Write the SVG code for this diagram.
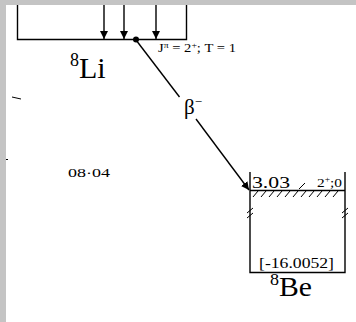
<svg xmlns="http://www.w3.org/2000/svg" width="356" height="322" viewBox="0 0 356 322">
<style>
.ln{stroke:#000;stroke-width:1.4;fill:none}
.th{stroke:#000;stroke-width:1;fill:none}
.t{font-family:"Liberation Serif","Times New Roman",serif;fill:#000}
</style>
<defs>
<marker id="ah" viewBox="0 0 10 10" refX="10" refY="5" markerWidth="8" markerHeight="8" markerUnits="userSpaceOnUse" orient="auto">
<path d="M0,0 L10,5 L0,10 z" fill="#000"/>
</marker>
</defs>
<rect x="0" y="0" width="356" height="322" fill="#fff"/>
<rect x="0" y="0" width="356" height="5" fill="#c4c4c4"/>
<rect x="0" y="0" width="6" height="322" fill="#c4c4c4"/>

<g id="li8">
<path class="ln" d="M17.5,5 V39.5 H186.5 V5"/>
<line class="ln" x1="104" y1="5" x2="104" y2="39" marker-end="url(#ah)"/>
<line class="ln" x1="124" y1="5" x2="124" y2="39" marker-end="url(#ah)"/>
<line class="ln" x1="156" y1="5" x2="156" y2="39" marker-end="url(#ah)"/>
<circle cx="136" cy="39.5" r="3" fill="#000"/>
<text class="t" x="158" y="52" font-size="12" textLength="78" lengthAdjust="spacingAndGlyphs">J<tspan font-size="8" dy="-4">π</tspan><tspan dy="4"> = 2</tspan><tspan font-size="8" dy="-4">+</tspan><tspan dy="4">; T = 1</tspan></text>
<text class="t" x="70" y="78" font-size="30"><tspan font-size="18" dy="-12">8</tspan><tspan dy="12">Li</tspan></text>
</g>

<g id="be8">
<path class="ln" d="M250,172 V272.5 H345 V172"/>
<line class="ln" x1="250" y1="190.5" x2="345" y2="190.5"/>
<path class="th" d="M253,197 l5,-6 M261,197 l5,-6 M269,197 l5,-6 M277,197 l5,-6 M285,197 l5,-6 M293,197 l5,-6 M301,197 l5,-6 M309,197 l5,-6 M317,197 l5,-6 M325,197 l5,-6 M333,197 l5,-6"/>
<path class="th" d="M299,189 l6,-6"/>
<path class="th" d="M247,213 l6,-5 M247,218 l6,-5 M342,213 l6,-5 M342,218 l6,-5"/>
<text class="t" x="252" y="188" font-size="17" textLength="38" lengthAdjust="spacingAndGlyphs">3.03</text>
<text class="t" x="317" y="187" font-size="13" textLength="25" lengthAdjust="spacingAndGlyphs">2<tspan font-size="8" dy="-5">+</tspan><tspan dy="5">;0</tspan></text>
<text class="t" x="259" y="268" font-size="15" textLength="75" lengthAdjust="spacingAndGlyphs">[-16.0052]</text>
<text class="t" x="270" y="296" font-size="28" textLength="42" lengthAdjust="spacingAndGlyphs"><tspan font-size="17" dy="-11">8</tspan><tspan dy="11">Be</tspan></text>
</g>

<g id="connectors">
<line class="ln" x1="136" y1="40" x2="179.5" y2="97"/>
<line class="ln" x1="196" y1="119" x2="249" y2="190" marker-end="url(#ah)"/>
<text class="t" x="184" y="114" font-size="21">β<tspan font-size="13" dy="-8">−</tspan></text>
</g>

<g id="misc">
<text class="t" x="68" y="177" font-size="13" textLength="42" lengthAdjust="spacingAndGlyphs">08·04</text>
<line class="th" x1="12" y1="97" x2="21" y2="99"/>
<line class="th" x1="6" y1="159.5" x2="8" y2="159.5"/>
</g>
</svg>
